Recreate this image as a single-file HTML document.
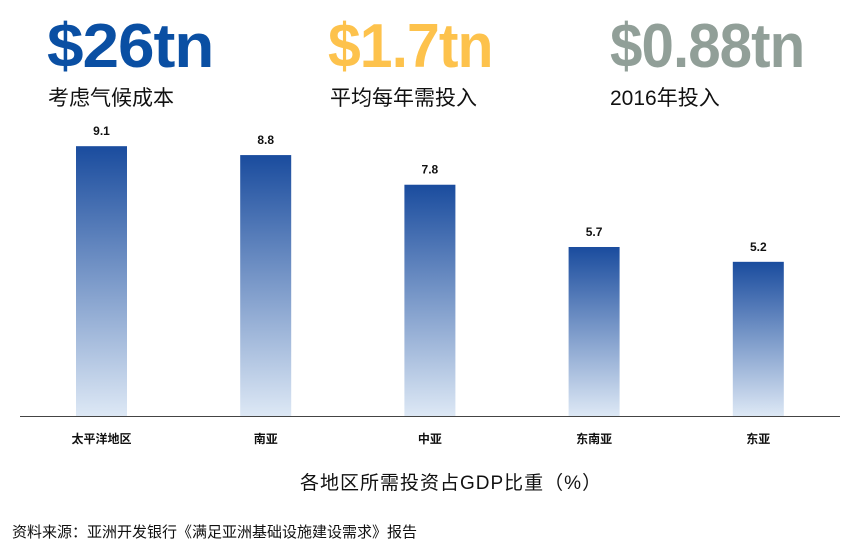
<!DOCTYPE html>
<html><head><meta charset="utf-8"><style>
body{margin:0;width:855px;height:546px;background:#fff;font-family:"Liberation Sans","Noto Sans CJK SC",sans-serif;overflow:hidden;position:relative}
.big{position:absolute;top:12px;font-weight:bold;font-size:62px;letter-spacing:-1px;line-height:70px;transform-origin:0 0}
.sub{position:absolute;top:86px;font-size:21px;color:#111;line-height:26px}
</style></head><body>
<div class="big" style="left:47px;color:#0a4fa3;transform:scaleX(1.06)">$26tn</div>
<div class="big" style="left:328px;color:#fdc24c;transform:scaleX(0.95)">$1.7tn</div>
<div class="big" style="left:610px;color:#919f98;transform:scaleX(0.94)">$0.88tn</div>
<div class="sub" style="left:48px">考虑气候成本</div>
<div class="sub" style="left:330px">平均每年需投入</div>
<div class="sub" style="left:610px">2016年投入</div>
<svg id="chart" width="855" height="546" style="position:absolute;left:0;top:0">
<defs><linearGradient id="g" x1="0" y1="0" x2="0" y2="1"><stop offset="0" stop-color="#1a4c9e"/><stop offset="1" stop-color="#dde8f5"/></linearGradient></defs>
</svg>
<div style="position:absolute;left:300px;top:468px;font-size:19px;color:#111;letter-spacing:1px">各地区所需投资占GDP比重（%）</div>
<div style="position:absolute;left:12px;top:521px;font-size:15px;color:#111">资料来源：亚洲开发银行《满足亚洲基础设施建设需求》报告</div>
<script>
const categories=["太平洋地区","南亚","中亚","东南亚","东亚"];
const values=[9.1,8.8,7.8,5.7,5.2];
const valueLabels=["9.1","8.8","7.8","5.7","5.2"];
const svg=document.getElementById('chart');
const NS="http://www.w3.org/2000/svg";
const base=416,scale=29.65,x0=76,step=164.2,bw=51;
function y(v){return base-v*scale;}
function x(i){return x0+i*step;}
categories.forEach((c,i)=>{
 const r=document.createElementNS(NS,'rect');
 
 
 r.setAttribute('x',x(i));r.setAttribute('y',y(values[i]));r.setAttribute('width',bw);r.setAttribute('height',base-y(values[i]));r.setAttribute('fill','url(#g)');
 svg.appendChild(r);
 const t=document.createElementNS(NS,'text');
 
 
 t.setAttribute('x',x(i)+bw/2);t.setAttribute('y',y(values[i])-11);t.setAttribute('text-anchor','middle');t.setAttribute('font-size','12');t.setAttribute('font-weight','bold');t.setAttribute('fill','#111');
 t.textContent=valueLabels[i];svg.appendChild(t);
 const l=document.createElementNS(NS,'text');
 
 
 l.setAttribute('x',x(i)+bw/2);l.setAttribute('y',443);l.setAttribute('text-anchor','middle');l.setAttribute('font-size','12');l.setAttribute('font-weight','bold');l.setAttribute('fill','#111');
 l.textContent=c;svg.appendChild(l);
});
const ax=document.createElementNS(NS,'line');


ax.setAttribute('x1',20);ax.setAttribute('x2',840);ax.setAttribute('y1',base+0.5);ax.setAttribute('y2',base+0.5);ax.setAttribute('stroke','#444');ax.setAttribute('stroke-width','1');
svg.appendChild(ax);
</script>
</body></html>
